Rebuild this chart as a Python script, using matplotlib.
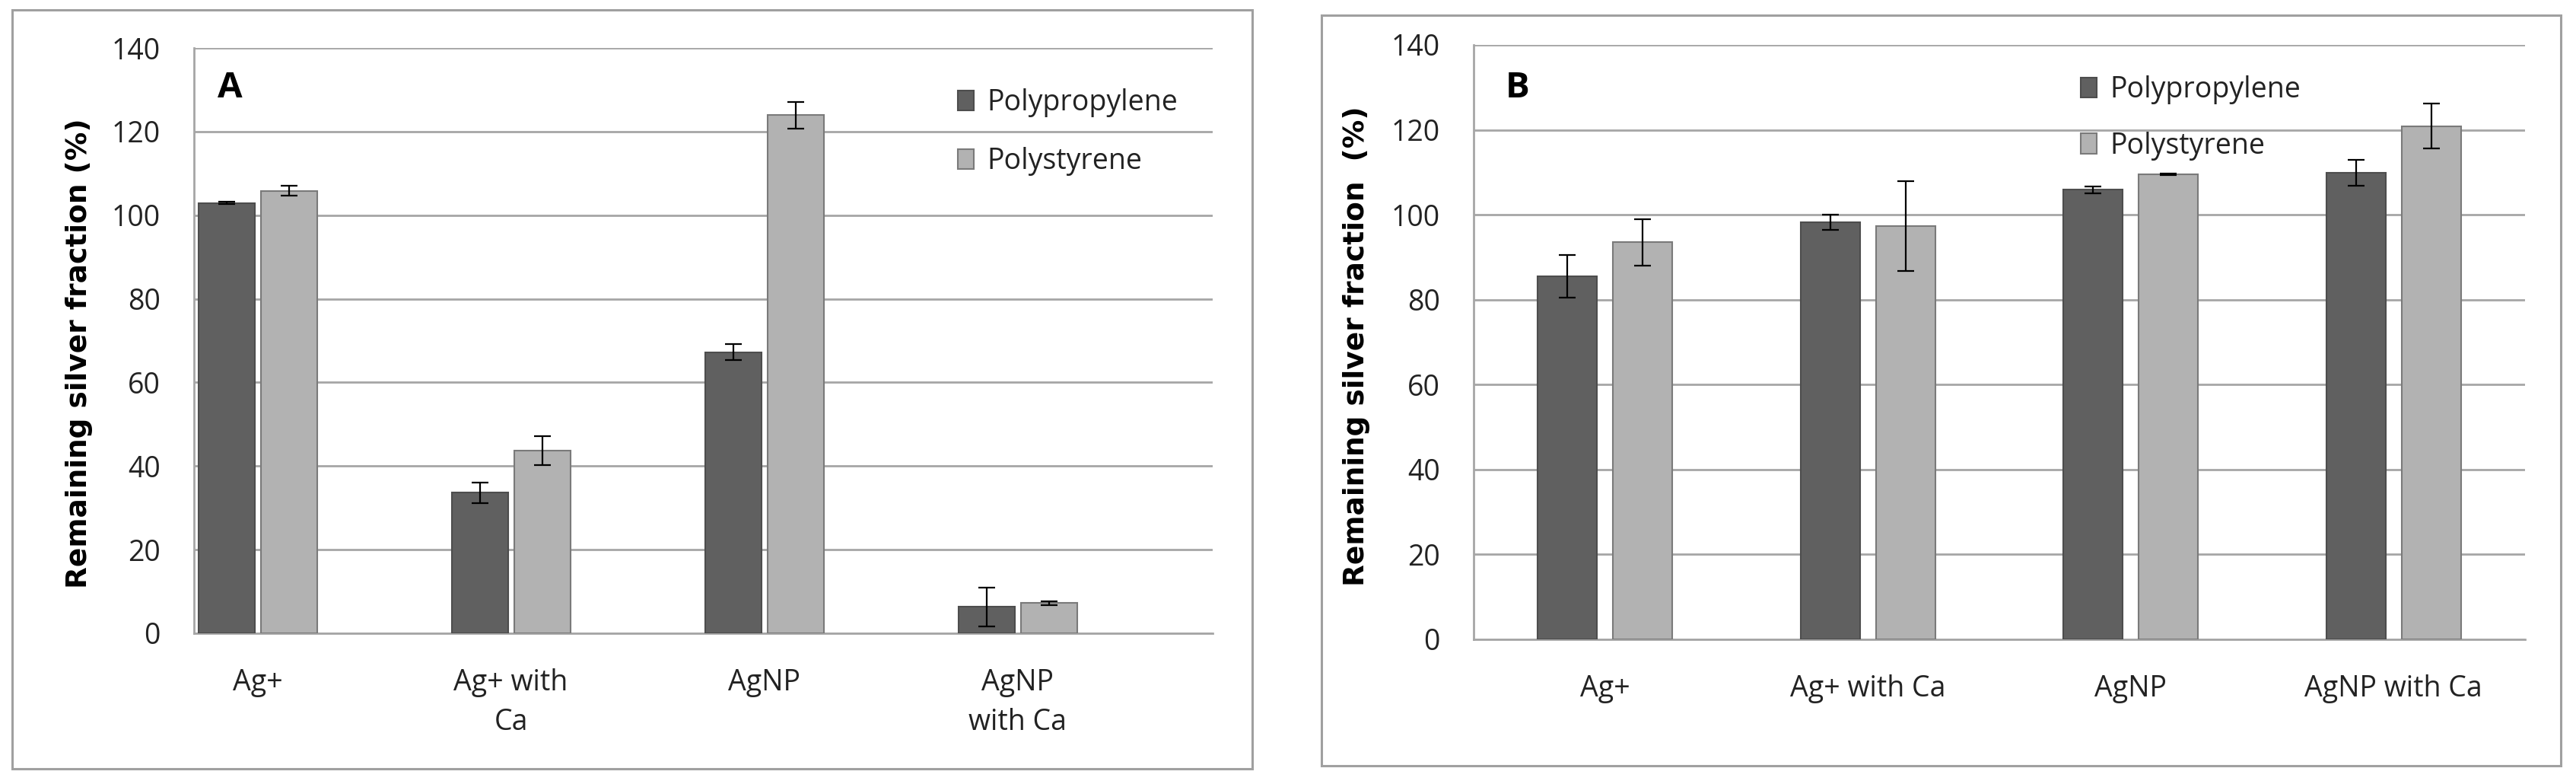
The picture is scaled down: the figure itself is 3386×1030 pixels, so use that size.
import matplotlib
matplotlib.use("Agg")
import matplotlib.pyplot as plt
import numpy as np
from matplotlib.patches import Rectangle, Patch

# --- data ---
cats_a = ["Ag+", "Ag+ with\nCa", "AgNP", "AgNP\nwith Ca"]
cats_b = ["Ag+", "Ag+ with Ca", "AgNP", "AgNP with Ca"]
series = ["Polypropylene", "Polystyrene"]

pp_a = [102.9, 33.6, 67.2, 6.3]
pp_a_err = [0.3, 2.5, 1.9, 4.6]
ps_a = [105.8, 43.7, 123.9, 7.2]
ps_a_err = [1.2, 3.4, 3.2, 0.4]

pp_b = [85.5, 98.3, 105.9, 109.9]
pp_b_err = [5.0, 1.8, 0.8, 3.1]
ps_b = [93.5, 97.3, 109.5, 120.9]
ps_b_err = [5.5, 10.6, 0.2, 5.3]

yticks = [0, 20, 40, 60, 80, 100, 120, 140]

# --- style ---
W, H = 3386, 1030
DARK = "#606060"
LIGHT = "#b2b2b2"
GRID = "#a6a6a6"
FONT = "Open Sans"
FS = 27

fig = plt.figure(figsize=(W / 100, H / 100), dpi=100)
fig.patch.set_facecolor("white")


def px(x0, y0, x1, y1):
    # pixel box -> figure fraction [left, bottom, width, height]
    return [x0 / W, 1 - y1 / H, (x1 - x0) / W, (y1 - y0) / H]


# outer panel frames
for box in [(16, 13, 1646, 1010), (1737, 20, 3366, 1006)]:
    fig.patches.append(Rectangle((box[0] / W, 1 - box[3] / H),
                                 (box[2] - box[0]) / W, (box[3] - box[1]) / H,
                                 transform=fig.transFigure, fill=False,
                                 edgecolor="#a0a0a0", linewidth=2.2, zorder=0))


def panel(rect, cats, pp, pp_err, ps, ps_err, xlim, off, width, linesp):
    ax = fig.add_axes(rect)
    x = np.arange(len(cats))
    ekw = dict(ecolor="black", elinewidth=1.6, capsize=8, capthick=1.6)
    ax.bar(x - off, pp, width, yerr=pp_err, color=DARK, edgecolor="#4d4d4d",
           linewidth=1.5, error_kw=ekw, zorder=3, label=series[0])
    ax.bar(x + off, ps, width, yerr=ps_err, color=LIGHT, edgecolor="#7a7a7a",
           linewidth=1.5, error_kw=ekw, zorder=3, label=series[1])
    ax.set_xlim(*xlim)
    ax.set_ylim(0, 140)
    ax.set_yticks(yticks)
    ax.set_xticks(x)
    ax.set_xticklabels(cats, fontsize=FS, family=FONT, color="#222222",
                       linespacing=linesp)
    ax.set_yticklabels([str(t) for t in yticks], fontsize=FS, family=FONT,
                       color="#222222")
    ax.tick_params(axis="y", length=0, pad=32)
    ax.tick_params(axis="x", length=0, pad=33)
    ax.yaxis.grid(True, color=GRID, linewidth=2.0, zorder=0)
    ax.set_axisbelow(True)
    for s in ["top", "right"]:
        ax.spines[s].set_visible(False)
    for s in ["left", "bottom"]:
        ax.spines[s].set_color(GRID)
        ax.spines[s].set_linewidth(2.0)
    ax.set_facecolor("none")
    return ax


ax_a = panel(px(255, 63, 1594, 832), cats_a, pp_a, pp_a_err, ps_a, ps_a_err,
             (-0.251, 3.77), 0.123, 0.222, 1.5)
ax_b = panel(px(1937, 59, 3319, 840), cats_b, pp_b, pp_b_err, ps_b, ps_b_err,
             (-0.5, 3.5), 0.143, 0.226, 1.2)

# legends
handles = [Patch(facecolor=DARK, edgecolor="#4d4d4d", linewidth=1.5),
           Patch(facecolor=LIGHT, edgecolor="#7a7a7a", linewidth=1.5)]
for (lx, ly, lsp) in [(1259, 116, 1.05), (2735, 99, 0.95)]:
    fig.legend(handles, series, loc="upper left",
               bbox_to_anchor=(lx / W, 1 - ly / H), frameon=False,
               prop={"family": FONT, "size": FS}, handlelength=0.57,
               handleheight=0.7, handletextpad=0.45, labelspacing=lsp,
               borderpad=0, borderaxespad=0, labelcolor="#222222")

# panel letters
fig.text(302 / W, 1 - 116 / H, "A", fontsize=34, fontweight="bold",
         family=FONT, ha="center", va="center")
fig.text(1995 / W, 1 - 115 / H, "B", fontsize=34, fontweight="bold",
         family=FONT, ha="center", va="center")

# y labels
fig.text(104 / W, 1 - 464 / H, "Remaining silver fraction (%)", rotation=90,
         fontsize=27, fontweight="bold", family="DejaVu Sans",
         ha="center", va="center")
fig.text(1783 / W, 1 - 455 / H, "Remaining silver fraction  (%)", rotation=90,
         fontsize=27, fontweight="bold", family="DejaVu Sans",
         ha="center", va="center")

fig.savefig("out.png", dpi=100, facecolor="white")
